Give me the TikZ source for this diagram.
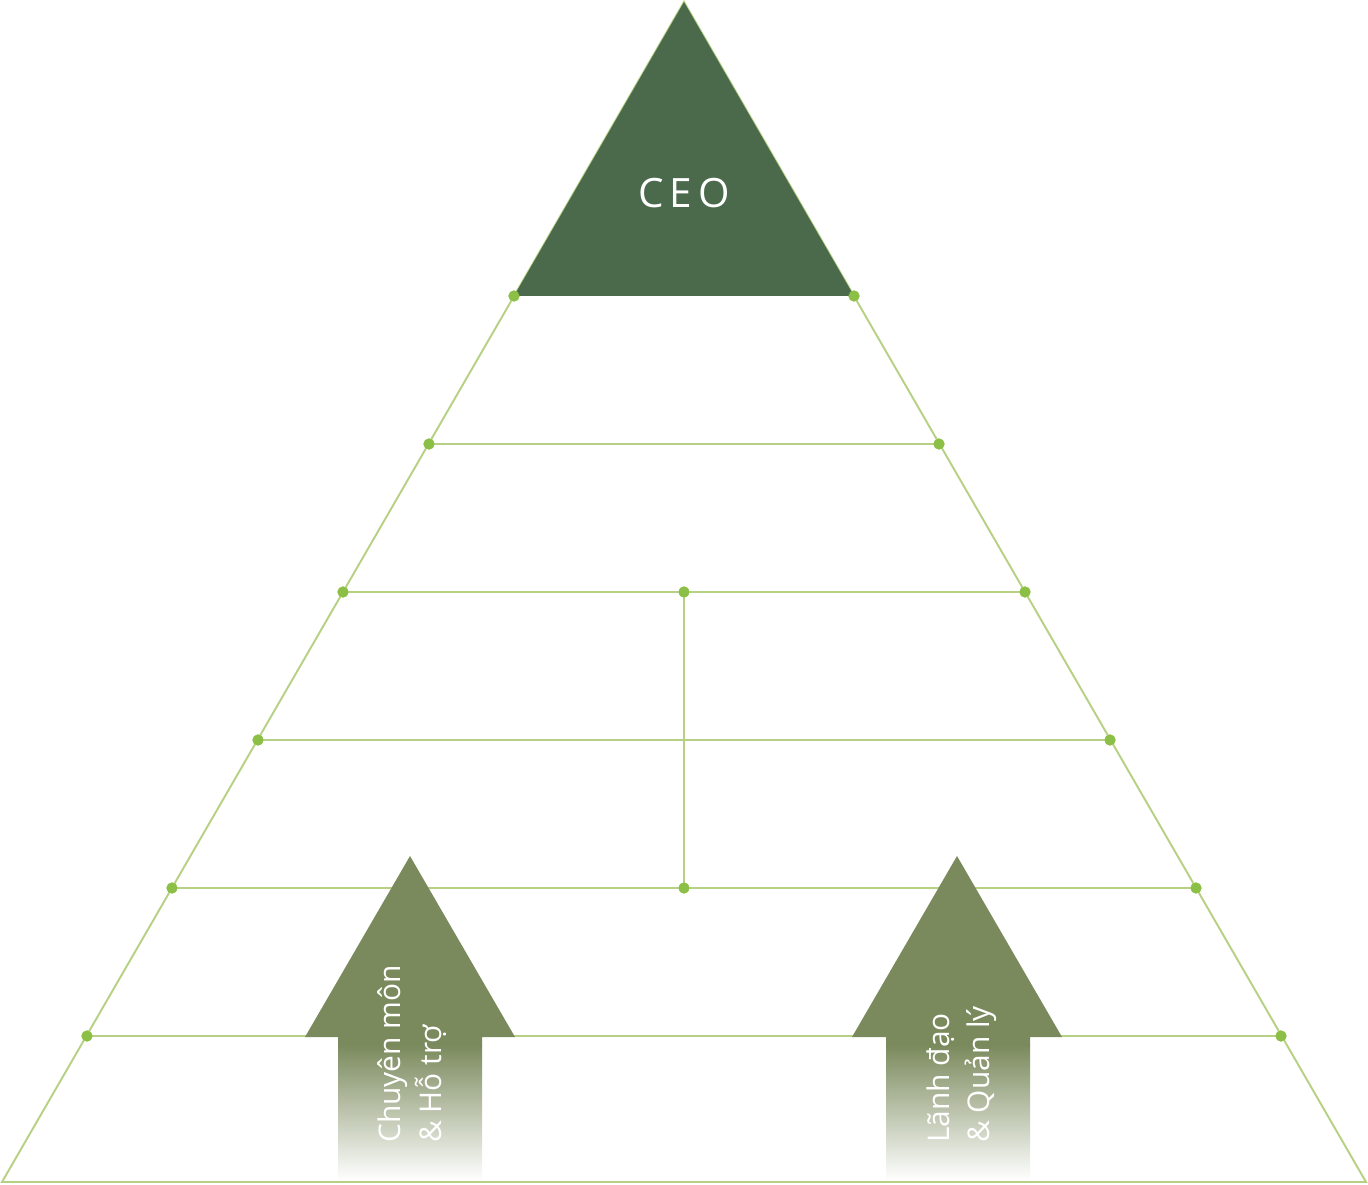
\documentclass[tikz,border=0pt]{standalone}
\usepackage{fontspec}
\setmainfont{Open Sans}
\definecolor{ceogreen}{HTML}{4A6A4B}
\definecolor{linegreen}{HTML}{B7D184}
\definecolor{dotgreen}{HTML}{8CBF45}
\definecolor{arrowgreen}{HTML}{7B8A5D}

\tikzset{
  edge/.style={draw=linegreen, line width=1.1pt},
  dot/.style={circle, fill=dotgreen, inner sep=0pt, minimum size=6.3pt},
  uplabel/.style={rotate=90, anchor=west, align=left, text=white, inner sep=0pt,
          font=\fontsize{17}{23}\selectfont}
}

\begin{document}
\begin{tikzpicture}[x=0.02cm,y=-0.02cm]
\useasboundingbox (0,0) rectangle (1368,1185);

% corners of the pyramid
\coordinate (apex) at (684,2);
\coordinate (bl) at (2,1182);
\coordinate (br) at (1366,1182);

% level points
\node[dot] (l1) at (514,296) {};
\node[dot] (r1) at (854,296) {};
\node[dot] (l2) at (429,444) {};
\node[dot] (r2) at (939,444) {};
\node[dot] (l3) at (343,592) {};
\node[dot] (r3) at (1025,592) {};
\node[dot] (l4) at (258,740) {};
\node[dot] (r4) at (1110,740) {};
\node[dot] (l5) at (172,888) {};
\node[dot] (r5) at (1196,888) {};
\node[dot] (l6) at (87,1036) {};
\node[dot] (r6) at (1281,1036) {};
\node[dot] (m3) at (684,592) {};
\node[dot] (m5) at (684,888) {};

% outline and levels
\draw[edge] (apex) -- (bl) -- (br) -- cycle;
\draw[edge] (l2.center) -- (r2.center);
\draw[edge] (l3.center) -- (r3.center);
\draw[edge] (l4.center) -- (r4.center);
\draw[edge] (l5.center) -- (r5.center);
\draw[edge] (l6.center) -- (r6.center);
\draw[edge] (m3.center) -- (m5.center);

% top
\fill[ceogreen] (apex) -- (r1.center) -- (l1.center) -- cycle;
\node[text=white, font=\fontsize{23}{26}\selectfont\addfontfeature{LetterSpace=15}]
          (ceo) at (684,193) {CEO};

% arrows
\coordinate (tipa) at (410,856);
\fill[arrowgreen] (tipa) -- (515,1037) -- (482,1037) -- (482,1046)
          -- (338,1046) -- (338,1037) -- (305,1037) -- cycle;
\shade[top color=arrowgreen, bottom color=white] (338,1045) rectangle (482,1180);

\coordinate (tipb) at (957,856);
\fill[arrowgreen] (tipb) -- (1062,1037) -- (1030,1037) -- (1030,1046)
          -- (886,1046) -- (886,1037) -- (852,1037) -- cycle;
\shade[top color=arrowgreen, bottom color=white] (886,1045) rectangle (1030,1180);

\node[uplabel] (support) at (412,1143) {Chuyên môn\\\& Hỗ trợ};
\node[uplabel] (lead) at (962,1143) {Lãnh đạo\\\& Quản lý};

\foreach \p in {l1,r1,l2,r2,l3,r3,l4,r4,l5,r5,l6,r6,m3,m5}
  \node[dot] at (\p) {};
\end{tikzpicture}
\end{document}
